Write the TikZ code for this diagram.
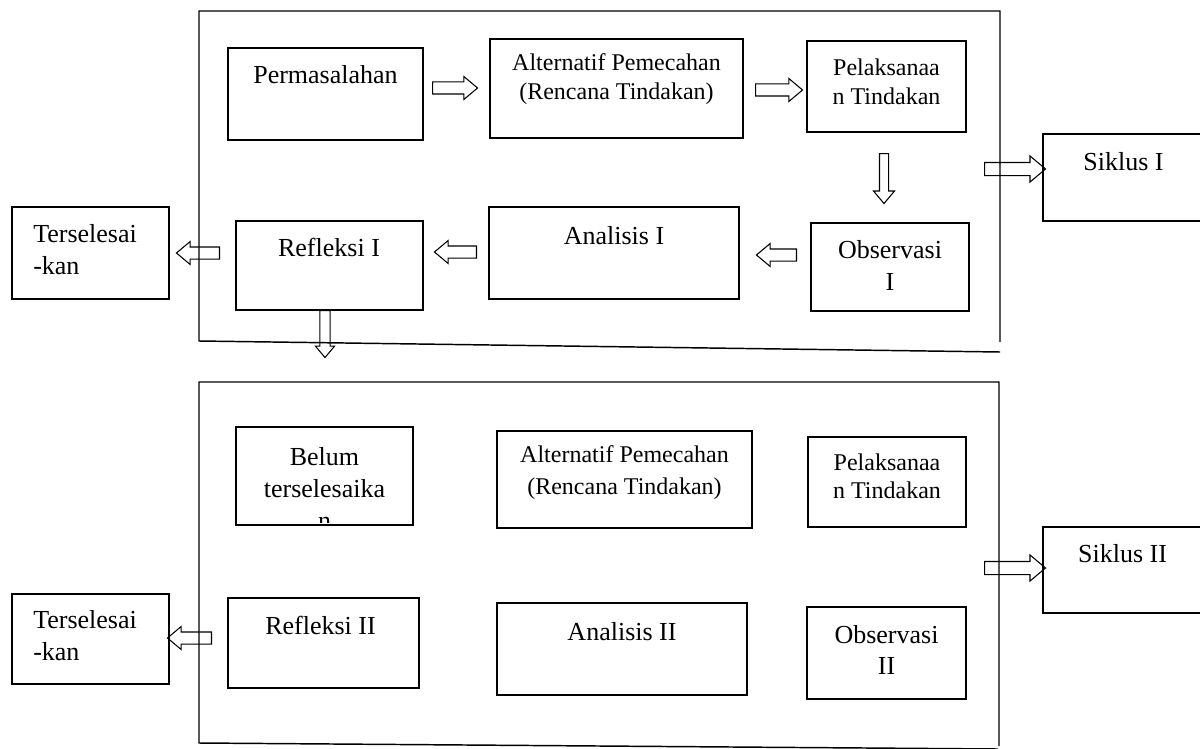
\documentclass[tikz,border=0pt]{standalone}
\usepackage{fontspec}
\setmainfont{Liberation Serif}
\usetikzlibrary{shapes.arrows}

\tikzset{
  kotak/.style 2 args={draw, line width=1.1pt, inner sep=0pt, minimum width=#1*0.75pt, minimum height=#2*0.75pt},
  bingkai/.style={line width=1.1pt},
  teks/.style={inner sep=0pt, anchor=base, align=center, font=\fontsize{19.5}{23.5}\selectfont},
  tekskecil/.style={inner sep=0pt, anchor=base, align=center, font=\fontsize{18}{20.5}\selectfont},
  panah/.style 2 args={single arrow, draw, line width=0.8pt, anchor=tail, inner xsep=0pt, inner ysep=4.125pt, minimum height=#1*0.75pt, single arrow head extend=#2, single arrow tip angle=80, single arrow head indent=0pt}
}

\begin{document}
\begin{tikzpicture}[x=0.75pt,y=0.75pt,yscale=-1,xscale=1]
\useasboundingbox (0,0) rectangle (1200,749);

%Frame: Siklus I
\draw [bingkai] (1000,342) -- (1000,11) -- (199,11) -- (199,341) -- (1000,352) ;
%Frame: Siklus II
\draw [bingkai] (999,746) -- (999,382) -- (199,382) -- (199,743) -- (998,749) ;

%Shape: Rectangle
\node [kotak={195}{92}] (perm) at (325.5,94) {};
%Shape: Rectangle
\node [kotak={253}{99}] (alt1) at (616.5,88.5) {};
%Shape: Rectangle
\node [kotak={159}{91}] (pel1) at (886.5,86.5) {};
%Shape: Rectangle
\node [kotak={158}{88}] (obs1) at (890,267) {};
%Shape: Rectangle
\node [kotak={250}{92}] (ana1) at (614,253) {};
%Shape: Rectangle
\node [kotak={187}{89}] (ref1) at (329.5,265.5) {};
%Shape: Rectangle
\node [kotak={157}{92}] (ter1) at (90.5,253) {};
%Shape: Rectangle
\node [kotak={159}{87}] (sik1) at (1122.5,177.5) {};

%Shape: Rectangle
\node [kotak={177}{98}] (belum) at (324.5,476) {};
%Shape: Rectangle
\node [kotak={255}{97}] (alt2) at (624.5,479.5) {};
%Shape: Rectangle
\node [kotak={158}{90}] (pel2) at (887,482) {};
%Shape: Rectangle
\node [kotak={159}{86}] (sik2) at (1122.5,570) {};
%Shape: Rectangle
\node [kotak={191}{90}] (ref2) at (323.5,643) {};
%Shape: Rectangle
\node [kotak={157}{90}] (ter2) at (90.5,639) {};
%Shape: Rectangle
\node [kotak={250}{92}] (ana2) at (622,649) {};
%Shape: Rectangle
\node [kotak={159}{92}] (obs2) at (886.5,653) {};

%Block Arrows
\node [panah={45}{4.1pt}] (p1) at (432,88) {};
\node [panah={47}{4.1pt}] (p2) at (755,90) {};
\node [panah={50}{4.5pt}, inner ysep=3pt, rotate=-90] (p3) at (884,153) {};
\node [panah={40}{4.1pt}, rotate=180] (p4) at (797,255) {};
\node [panah={42}{4.1pt}, rotate=180] (p5) at (477,252) {};
\node [panah={43}{4.1pt}, rotate=180] (p6) at (220,253) {};
\node [panah={47}{3.4pt}, inner ysep=3.4pt, rotate=-90] (p7) at (325,310) {};
\node [panah={61}{4.9pt}, inner ysep=4.5pt] (p8) at (984,169) {};
\node [panah={61}{4.9pt}, inner ysep=4.5pt] (p9) at (984,568) {};
\node [panah={44}{4.1pt}, rotate=180] (p10) at (212,638) {};

% Text Node
\node [teks] (perm-t) at (325.5,84) {Permasalahan};
% Text Node
\node [tekskecil, font=\fontsize{18}{21}\selectfont] (alt1-t) at (616.5,99) {Alternatif Pemecahan\\(Rencana Tindakan)};
% Text Node
\node [tekskecil, font=\fontsize{18}{21}\selectfont] (pel1-t) at (886.5,104) {Pelaksanaa\\n Tindakan};
% Text Node
\node [teks, font=\fontsize{19.5}{24}\selectfont] (obs1-t) at (890,290) {Observasi\\I};
% Text Node
\node [teks] (ana1-t) at (614,244) {Analisis I};
% Text Node
\node [teks] (ref1-t) at (329,256) {Refleksi I};
% Text Node
\node [teks, anchor=base west, align=left] (ter1-t) at (33,274) {Terselesai\\-kan};
% Text Node
\node [teks] (sik1-t) at (1123.5,171) {Siklus I};

% Text Node
\begin{scope}
\clip (237,428) rectangle (412,522);
\node [teks, font=\fontsize{19.5}{24}\selectfont] (belum-t) at (324.5,529) {Belum\\terselesaika\\n};
\end{scope}
% Text Node
\node [tekskecil, font=\fontsize{18}{24}\selectfont] (alt2-t) at (624.5,494) {Alternatif Pemecahan\\(Rencana Tindakan)};
% Text Node
\node [tekskecil, font=\fontsize{18}{21}\selectfont] (pel2-t) at (887,498) {Pelaksanaa\\n Tindakan};
% Text Node
\node [teks] (sik2-t) at (1122.5,562) {Siklus II};
% Text Node
\node [teks] (ref2-t) at (320.5,634) {Refleksi II};
% Text Node
\node [teks, anchor=base west, align=left] (ter2-t) at (33,660) {Terselesai\\-kan};
% Text Node
\node [teks] (ana2-t) at (622,640) {Analisis II};
% Text Node
\node [teks, font=\fontsize{19.5}{23.25}\selectfont] (obs2-t) at (886.5,674) {Observasi\\II};

\end{tikzpicture}
\end{document}
